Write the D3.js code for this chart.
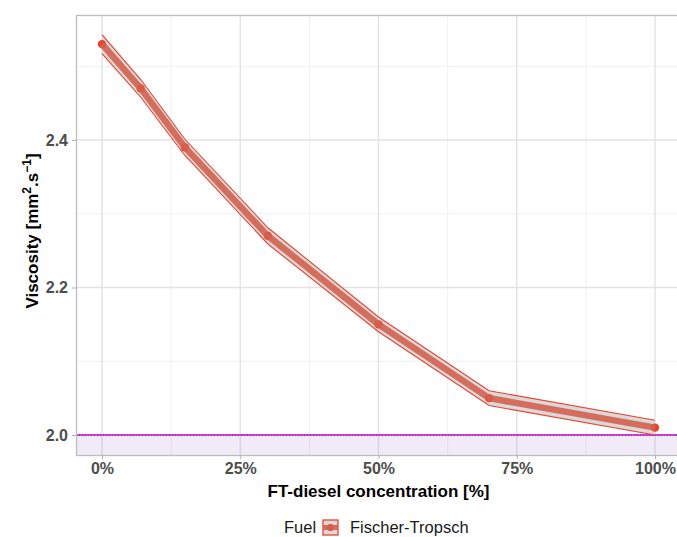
<!DOCTYPE html>
<html>
<head>
<meta charset="utf-8">
<script src="https://cdn.jsdelivr.net/npm/d3@7"></script>
<style>
  html, body { margin: 0; padding: 0; background: #fff; }
  svg { display: block; font-family: "Liberation Sans", Arial, sans-serif; }
</style>
</head>
<body>
<svg id="chart" width="677" height="537"></svg>
<script>
// FT-diesel blend concentration (%) and measured viscosity
const concentration = [0, 7, 15, 30, 50, 70, 100];
const viscosity     = [2.53, 2.47, 2.39, 2.27, 2.15, 2.05, 2.01];
const viscosityLow  = [2.517, 2.458, 2.379, 2.259, 2.140, 2.040, 2.000];
const viscosityHigh = [2.543, 2.482, 2.401, 2.281, 2.160, 2.060, 2.020];
const xTicks = [0, 25, 50, 75, 100];
const xMinor = [12.5, 37.5, 62.5, 87.5];
const yTicks = [2.0, 2.2, 2.4];
const yMinor = [2.1, 2.3, 2.5];
const limitValue = 2.0;          // reference limit line
const fuelName = "Fischer-Tropsch";

const svg = d3.select("#chart");
const panel = { left: 76, top: 15, right: 683, bottom: 455 };

const x = d3.scaleLinear().domain([0, 100]).range([102, 655]);
const y = d3.scaleLinear().domain([2.0, 2.4]).range([435, 140]);

const lineRed = "#e8432f";
const thickRed = "#d4604f";

// clip for panel contents
svg.append("defs").append("clipPath").attr("id", "panelClip")
  .append("rect")
  .attr("x", panel.left).attr("y", panel.top)
  .attr("width", panel.right - panel.left).attr("height", panel.bottom - panel.top);

const g = svg.append("g").attr("clip-path", "url(#panelClip)");

// minor grid
g.selectAll(".ymin").data(yMinor).join("line")
  .attr("x1", panel.left).attr("x2", panel.right)
  .attr("y1", d => y(d)).attr("y2", d => y(d))
  .attr("stroke", "#f0f0f0").attr("stroke-width", 1);
g.selectAll(".xmin").data(xMinor).join("line")
  .attr("y1", panel.top).attr("y2", panel.bottom)
  .attr("x1", d => x(d)).attr("x2", d => x(d))
  .attr("stroke", "#f0f0f0").attr("stroke-width", 1);
// major grid
g.selectAll(".ymaj").data(yTicks).join("line")
  .attr("x1", panel.left).attr("x2", panel.right)
  .attr("y1", d => y(d)).attr("y2", d => y(d))
  .attr("stroke", "#e3e3e3").attr("stroke-width", 1.4);
g.selectAll(".xmaj").data(xTicks).join("line")
  .attr("y1", panel.top).attr("y2", panel.bottom)
  .attr("x1", d => x(d)).attr("x2", d => x(d))
  .attr("stroke", "#e3e3e3").attr("stroke-width", 1.4);

// shaded region below the limit
g.append("rect")
  .attr("x", panel.left).attr("width", panel.right - panel.left)
  .attr("y", y(limitValue)).attr("height", panel.bottom - y(limitValue))
  .attr("fill", "#8a5cc0").attr("fill-opacity", 0.12);

// limit line
g.append("line")
  .attr("x1", panel.left).attr("x2", panel.right)
  .attr("y1", y(limitValue)).attr("y2", y(limitValue))
  .attr("stroke", "#e040e0").attr("stroke-width", 2.2);
g.append("line")
  .attr("x1", panel.left).attr("x2", panel.right)
  .attr("y1", y(limitValue)).attr("y2", y(limitValue))
  .attr("stroke", "#9b2fc8").attr("stroke-width", 2.2)
  .attr("stroke-dasharray", "1,2");

const pts = concentration.map((c, i) => ({ c, v: viscosity[i], lo: viscosityLow[i], hi: viscosityHigh[i] }));

// confidence ribbon
g.append("path").datum(pts)
  .attr("d", d3.area().x(d => x(d.c)).y0(d => y(d.lo)).y1(d => y(d.hi)))
  .attr("fill", "#d9d9d9");
["lo", "hi"].forEach(k => {
  g.append("path").datum(pts)
    .attr("d", d3.line().x(d => x(d.c)).y(d => y(d[k])))
    .attr("fill", "none").attr("stroke", lineRed).attr("stroke-width", 1.1);
});

// points, then the mean line drawn over them
g.selectAll(".pt").data(pts).join("circle")
  .attr("cx", d => x(d.c)).attr("cy", d => y(d.v)).attr("r", 4.2)
  .attr("fill", lineRed);

g.append("path").datum(pts)
  .attr("d", d3.line().x(d => x(d.c)).y(d => y(d.v)))
  .attr("fill", "none").attr("stroke", thickRed).attr("stroke-width", 6.5)
  .attr("stroke-opacity", 0.9)
  .attr("stroke-linejoin", "round");

// panel border
svg.append("rect")
  .attr("x", panel.left + 0.5).attr("y", panel.top + 0.5)
  .attr("width", panel.right - panel.left).attr("height", panel.bottom - panel.top)
  .attr("fill", "none").attr("stroke", "#bdbdbd").attr("stroke-width", 1.3);

// axes
const xAxis = svg.append("g").attr("transform", `translate(0,${panel.bottom})`)
  .call(d3.axisBottom(x).tickValues(xTicks).tickFormat(d => d + "%").tickSize(4).tickPadding(4));
const yAxis = svg.append("g").attr("transform", `translate(${panel.left},0)`)
  .call(d3.axisLeft(y).tickValues(yTicks).tickFormat(d3.format(".1f")).tickSize(4).tickPadding(4));
[xAxis, yAxis].forEach(a => {
  a.select(".domain").remove();
  a.selectAll(".tick line").attr("stroke", "#b3b3b3");
  a.selectAll(".tick text")
    .attr("fill", "#4d4d4d").attr("font-size", 16).attr("font-weight", "bold")
    .attr("font-family", "Liberation Sans, Arial, sans-serif");
});

// axis titles
svg.append("text")
  .attr("x", (x(0) + x(100)) / 2).attr("y", 497)
  .attr("text-anchor", "middle").attr("font-size", 17).attr("font-weight", "bold")
  .attr("fill", "#000").text("FT-diesel concentration [%]");

const yt = svg.append("text")
  .attr("transform", `translate(38,${(panel.top + panel.bottom) / 2 - 4}) rotate(-90)`)
  .attr("text-anchor", "middle").attr("font-size", 17).attr("font-weight", "bold")
  .attr("fill", "#000");
yt.append("tspan").text("Viscosity [mm");
yt.append("tspan").attr("font-size", 12).attr("dy", -7).text("2");
yt.append("tspan").attr("dy", 7).text(".s");
yt.append("tspan").attr("font-size", 12).attr("dy", -7).text("\u22121");
yt.append("tspan").attr("dy", 7).text("]");

// legend
const leg = svg.append("g");
leg.append("text").attr("x", 284).attr("y", 533).attr("font-size", 16.5)
  .attr("fill", "#1a1a1a").text("Fuel");
const kx = 323, ky = 520, ks = 15;
leg.append("rect").attr("x", kx).attr("y", ky).attr("width", ks).attr("height", ks)
  .attr("fill", "#d9d9d9").attr("stroke", lineRed).attr("stroke-width", 1.3);
leg.append("circle").attr("cx", kx + ks / 2).attr("cy", ky + ks / 2).attr("r", 3.5)
  .attr("fill", lineRed);
leg.append("line").attr("x1", kx).attr("x2", kx + ks).attr("y1", ky + ks / 2).attr("y2", ky + ks / 2)
  .attr("stroke", thickRed).attr("stroke-width", 5).attr("stroke-opacity", 0.9);
leg.append("text").attr("x", 350).attr("y", 533).attr("font-size", 16.5)
  .attr("fill", "#1a1a1a").text(fuelName);
</script>
</body>
</html>
